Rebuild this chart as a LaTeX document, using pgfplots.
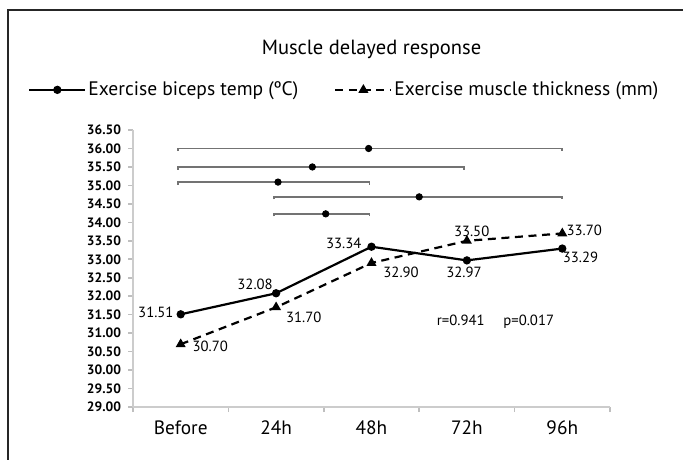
\documentclass[border=0pt]{standalone}
\usepackage{pgfplots}
\pgfplotsset{compat=1.18}
\usepackage{fontspec}
\setmainfont{PT Sans}
\begin{document}
\begin{tikzpicture}
\useasboundingbox (0bp,0bp) rectangle (341.5bp,-230bp);
\draw[line width=1bp,black!85] (4bp,-230bp) -- (4bp,-5bp) -- (341.5bp,-5bp);
\begin{axis}[
  at={(66.5bp,-203.5bp)}, anchor=south west,
  scale only axis, width=238.5bp, height=138.5bp,
  xmin=-0.5, xmax=4.5, ymin=29, ymax=36.5,
  axis lines*=left,
  axis line style={black!20, line width=0.8bp},
  xtick={0,1,2,3,4},
  xticklabels={Before,24h,48h,72h,96h},
  minor xtick={-0.5,0.5,1.5,2.5,3.5,4.5},
  major x tick style={draw=none},
  minor x tick style={black!25, line width=0.8bp},
  minor tick length=2.5bp,
  ytick={29,29.5,...,36.5},
  y tick style={black!25, line width=0.8bp},
  major tick length=2.5bp,
  tick align=outside,
  xtick pos=bottom, ytick pos=left,
  x tick label style={font=\fontsize{9.7}{11}\selectfont, yshift=-1bp},
  y tick label style={font=\fontsize{6.8}{8}\selectfont\bfseries},
  yticklabel style={/pgf/number format/.cd, fixed, fixed zerofill, precision=2, assume math mode=true},
  legend style={at={(-0.233,1.145)}, anchor=west, draw=none, fill=none,
    font=\fontsize{9.8}{11}\selectfont, legend columns=2,
    /tikz/every even column/.append style={column sep=16bp},
    /tikz/every odd column/.append style={column sep=-1bp}},
  legend image code/.code={\draw[mark repeat=2,mark phase=2] plot coordinates {(0bp,0bp) (14bp,0bp) (28bp,0bp)};},
  legend cell align=left,
  clip=false,
]
% significance brackets
\addplot[black!55, line width=0.9bp, forget plot] coordinates {(-0.03,35.93) (-0.03,36.0) (4.0,36.0) (4.0,35.93)};
\addplot[black!55, line width=0.9bp, forget plot] coordinates {(-0.03,35.43) (-0.03,35.5) (2.97,35.5) (2.97,35.43)};
\addplot[black!55, line width=0.9bp, forget plot] coordinates {(-0.03,35.02) (-0.03,35.09) (1.98,35.09) (1.98,35.02)};
\addplot[black!55, line width=0.9bp, forget plot] coordinates {(0.98,34.62) (0.98,34.69) (4.0,34.69) (4.0,34.62)};
\addplot[black!55, line width=0.9bp, forget plot] coordinates {(0.98,34.16) (0.98,34.23) (1.98,34.23) (1.98,34.16)};
\addplot[only marks, mark=*, mark size=1.6bp, black, forget plot] coordinates {(1.97,36.0) (1.38,35.5) (1.02,35.09) (2.5,34.69) (1.52,34.23)};
% data
\addplot[black, line width=1.1bp, mark=*, mark size=1.5bp] coordinates {(0,31.51) (1,32.08) (2,33.34) (3,32.97) (4,33.29)};
\addlegendentry{Exercise biceps temp (ºC)}
\addplot[black, line width=1.1bp, dash pattern=on 4bp off 2.8bp, mark=triangle*, mark size=1.8bp, mark options={solid}] coordinates {(0,30.70) (1,31.70) (2,32.90) (3,33.50) (4,33.70)};
\addlegendentry{Exercise muscle thickness (mm)}
% labels
\begin{scope}[every node/.style={font=\fontsize{7.4}{9}\selectfont, inner sep=1bp}]
\node[anchor=east] at (axis cs:-0.05,31.55) {31.51};
\node[anchor=south east] at (axis cs:0.99,32.12) {32.08};
\node[anchor=east] at (axis cs:1.92,33.42) {33.34};
\node[anchor=north] at (axis cs:2.97,32.85) {32.97};
\node[anchor=north west] at (axis cs:3.98,33.25) {33.29};
\node[anchor=south] at (axis cs:3.05,33.55) {33.50};
\node[anchor=west] at (axis cs:4.02,33.78) {33.70};
\node[anchor=north west] at (axis cs:2.1,32.85) {32.90};
\node[anchor=north west] at (axis cs:1.08,31.65) {31.70};
\node[anchor=west] at (axis cs:0.1,30.63) {30.70};
\node at (axis cs:3.3,31.3) {r=0.941\quad\ p=0.017};
\end{scope}
\node[font=\fontsize{10.3}{12}\selectfont] at (axis description cs:0.5,1.29) {Muscle delayed response};
\end{axis}
\end{tikzpicture}
\end{document}
